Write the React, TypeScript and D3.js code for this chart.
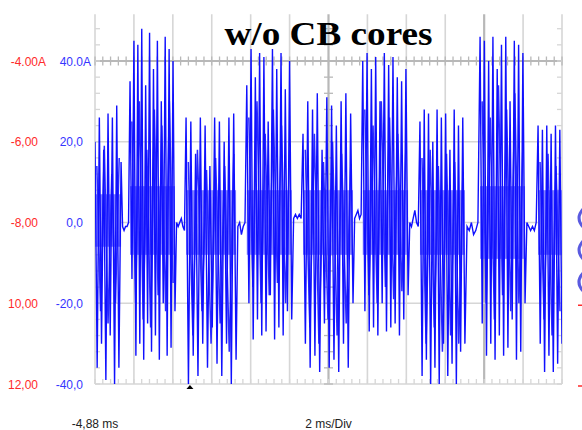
import React from "react";
import * as d3 from "d3";

// scope screen: time in ms, current in A
const timeStart = -4.88;
const timeEnd = 19.12;
const msPerDiv = 2;
const currentMin = -40;
const currentMax = 40;
const screenTopValue = 51.6;

const currentTicks = [40, 20, 0, -20, -40];
const currentLabels = ["40.0", "20,0", "0,0", "-20,0", "-40,0"];
const secondLabels = ["-4.00", "-6,00", "-8,00", "10,00", "12,00"];

// bursts of the recorded current (ms)
const burstStart = [-4.88, -3.08, -0.2, 2.92, 5.81, 8.88, 11.82, 14.91, 17.89];
const burstEnd = [-3.54, -0.77, 2.37, 5.23, 8.38, 11.21, 14.13, 17.22, 19.12];

// successive extremes inside each burst (A)
const burstPeaks: number[][] = [
  [20, -36, 26, -30, 18, -39, 27, -28, 26, -40, 29, -36, 15],
  [35, -14, 45, -33, 44, -30, 48, -34, 34, -25, 47, -32, 38, -28, 45, -34, 30, -20, 46, -33, 43, -31, 40, -22],
  [26, -40, 25, -33, 17, -38, 26, -30, 24, -36, 14, -26, 26, -35, 25, -38, 20, -30, 26, -40, 27, -34],
  [34, -20, 43, -29, 36, -24, 42, -28, 41, -27, 25, -18, 43, -29, 38, -26, 42, -28, 33, -22, 40, -24],
  [22, -30, 30, -36, 28, -33, 32, -37, 18, -25, 31, -36, 29, -34, 24, -37, 30, -30, 32, -36, 27, -20],
  [40, -22, 42, -27, 38, -26, 41, -28, 30, -20, 42, -27, 39, -26, 41, -25, 36, -28, 35, -24, 38, -18],
  [25, -38, 28, -34, 27, -40, 20, -36, 28, -40, 26, -30, 27, -38, 18, -35, 28, -40, 24, -32, 26, -30],
  [46, -25, 45, -33, 40, -30, 46, -34, 38, -28, 44, -33, 46, -31, 30, -24, 45, -34, 44, -32, 42, -20],
  [24, -30, 23, -37, 24, -33, 22, -37, 24, -35, 23, -30],
];

// shorter extremes between the big ones (A)
const burstInner: number[][] = [
  [14, -22, 19, -25, 12, -20, 16],
  [25, -20, 30, -24, 18, -26, 28, -18, 24, -22, 30, -15],
  [15, -28, 18, -22, 13, -30, 16, -25, 14, -32, 17],
  [26, -16, 30, -20, 22, -18, 28, -15, 24, -20, 18],
  [18, -26, 22, -30, 15, -24, 20, -28, 17, -25, 14],
  [28, -18, 24, -20, 30, -16, 26, -19, 22, -17, 20],
  [16, -30, 18, -26, 14, -32, 17, -28, 15, -30, 12],
  [30, -20, 26, -24, 34, -18, 28, -22, 32, -20, 20],
  [15, -24, 17, -28, 14, -22],
];

// dense light band in the middle of each burst
const bandHigh = [7, 9, 8, 8, 8, 8, 8, 9, 8];
const bandLow = [-6, -8, -8, -8, -8, -8, -8, -9, -8];

// quiet gaps between bursts
const quietLevels: number[][] = [
  [-1, -2, -1, -1, 0],
  [0, -1, 0, 1, -1, -2],
  [-1, 0, -3, -1, 0],
  [1, 2, 1, 2, 1],
  [1, 2, 3, 1, 2],
  [0, -1, 1, 3, 0, -1],
  [-1, -2, 0, -3, -2, 0],
  [0, -1, -2, -1, -2, 0],
];

type Pt = { t: number; v: number };

export default class App extends React.Component {
  protected id: string;

  constructor(props: {}) {
    super(props);
    this.id = "scope-" + Math.random().toString(36).replace(/[^a-z]+/g, "").substring(2, 10);
  }

  componentDidMount() {
    this.buildChart();
  }

  buildChart() {
    const width = 582,
      height = 430;

    const container = document.getElementById(this.id) as HTMLElement;
    container.innerHTML = "";

    const svg = d3
      .select(container)
      .append("svg")
      .attr("width", width)
      .attr("height", height)
      .style("position", "absolute")
      .style("left", "0px")
      .style("top", "0px")
      .style("background", "#fff");

    const x = d3.scaleLinear().domain([timeStart, timeEnd]).range([95, 562]);
    const y = d3.scaleLinear().domain([currentMin, currentMax]).range([384, 61]);
    const yTop = y(screenTopValue);

    const gridColor = "#d6d6d6";
    const axisColor = "#b8b8b8";

    const grid = svg.append("g");

    // vertical divisions
    const divs = d3.range(0, Math.round((timeEnd - timeStart) / msPerDiv) + 1).map((i) => timeStart + i * msPerDiv);
    grid
      .selectAll("line.v")
      .data(divs)
      .join("line")
      .attr("x1", (d) => x(d))
      .attr("x2", (d) => x(d))
      .attr("y1", yTop)
      .attr("y2", y(currentMin))
      .attr("stroke", (d, i) => (i === 6 || i === 10 ? axisColor : gridColor))
      .attr("stroke-width", (d, i) => (i === 6 || i === 10 ? 2.2 : 1.6));

    // horizontal divisions
    grid
      .selectAll("line.h")
      .data(currentTicks)
      .join("line")
      .attr("x1", x(timeStart))
      .attr("x2", x(timeEnd))
      .attr("y1", (d) => y(d))
      .attr("y2", (d) => y(d))
      .attr("stroke", (d) => (d === 40 ? axisColor : gridColor))
      .attr("stroke-width", (d) => (d === 40 ? 2.2 : 1.6));

    // minor ticks, 5 per division
    const minorT = d3.range(0, 61).map((i) => timeStart + (i * msPerDiv) / 5);
    const minorV = d3.range(currentMin, screenTopValue, 4);

    grid
      .selectAll("line.mt")
      .data(minorT)
      .join("line")
      .attr("x1", (d) => x(d))
      .attr("x2", (d) => x(d))
      .attr("y1", y(40) - 4.5)
      .attr("y2", y(40) + 4.5)
      .attr("stroke", axisColor)
      .attr("stroke-width", 1.3);

    grid
      .selectAll("line.mb")
      .data(minorT)
      .join("line")
      .attr("x1", (d) => x(d))
      .attr("x2", (d) => x(d))
      .attr("y1", y(currentMin) - 5)
      .attr("y2", y(currentMin))
      .attr("stroke", gridColor)
      .attr("stroke-width", 1.3);

    const centerT = timeStart + 6 * msPerDiv;
    grid
      .selectAll("line.mc")
      .data(minorV)
      .join("line")
      .attr("x1", x(centerT) - 4.5)
      .attr("x2", x(centerT) + 4.5)
      .attr("y1", (d) => y(d))
      .attr("y2", (d) => y(d))
      .attr("stroke", axisColor)
      .attr("stroke-width", 1.3);

    grid
      .selectAll("line.mr")
      .data(minorV)
      .join("line")
      .attr("x1", x(timeEnd) - 5)
      .attr("x2", x(timeEnd))
      .attr("y1", (d) => y(d))
      .attr("y2", (d) => y(d))
      .attr("stroke", gridColor)
      .attr("stroke-width", 1.3);

    grid
      .selectAll("line.ml")
      .data(minorV)
      .join("line")
      .attr("x1", x(timeStart))
      .attr("x2", x(timeStart) + 5)
      .attr("y1", (d) => y(d))
      .attr("y2", (d) => y(d))
      .attr("stroke", gridColor)
      .attr("stroke-width", 1.3);

    // trace
    svg
      .append("clipPath")
      .attr("id", this.id + "-clip")
      .append("rect")
      .attr("x", x(timeStart))
      .attr("y", yTop)
      .attr("width", x(timeEnd) - x(timeStart))
      .attr("height", y(currentMin) - yTop);

    const plot = svg.append("g").attr("clip-path", `url(#${this.id}-clip)`);

    plot
      .selectAll("rect.band")
      .data(burstStart)
      .join("rect")
      .attr("x", (d) => x(d))
      .attr("width", (d, i) => x(burstEnd[i]) - x(d))
      .attr("y", (d, i) => y(bandHigh[i]))
      .attr("height", (d, i) => y(bandLow[i]) - y(bandHigh[i]))
      .attr("fill", "#8282ff");

    const line = d3
      .line<Pt>()
      .x((d) => x(d.t))
      .y((d) => y(d.v));

    // inner swings, one short zigzag per burst
    const inner: Pt[][] = burstInner.map((vals, i) => {
      const t0 = burstStart[i],
        t1 = burstEnd[i];
      return vals.map((v, k) => ({ t: t0 + ((t1 - t0) * (k + 0.5)) / vals.length, v }));
    });

    plot
      .selectAll("path.inner")
      .data(inner)
      .join("path")
      .attr("d", (d) => line(d))
      .attr("fill", "none")
      .attr("stroke", "#2a2aff")
      .attr("stroke-width", 1.5);

    const pts: Pt[] = [];
    burstPeaks.forEach((peaks, i) => {
      const t0 = burstStart[i],
        t1 = burstEnd[i];
      peaks.forEach((v, k) => pts.push({ t: t0 + ((t1 - t0) * k) / (peaks.length - 1), v }));
      if (i < quietLevels.length) {
        const q = quietLevels[i];
        const g0 = burstEnd[i],
          g1 = burstStart[i + 1];
        q.forEach((v, k) => pts.push({ t: g0 + ((g1 - g0) * (k + 1)) / (q.length + 1), v }));
      }
    });

    plot
      .append("path")
      .datum(pts)
      .attr("d", line)
      .attr("fill", "none")
      .attr("stroke", "#1010ff")
      .attr("stroke-width", 1.4)
      .attr("stroke-linejoin", "miter");

    // trigger marker at t = 0
    const tx = x(0);
    svg
      .append("path")
      .attr("d", `M${tx},${y(currentMin) + 1}L${tx - 3.5},${y(currentMin) + 5}L${tx + 3.5},${y(currentMin) + 5}Z`)
      .attr("fill", "#000");

    // labels
    const font = "'Liberation Sans', Arial, sans-serif";
    const labels = svg.append("g").attr("font-family", font).attr("font-size", 12);

    labels
      .selectAll("text.cur")
      .data(currentTicks)
      .join("text")
      .attr("x", 83)
      .attr("y", (d) => y(d) + 4.5)
      .attr("text-anchor", "end")
      .attr("fill", "#3535ff")
      .text((d, i) => currentLabels[i]);

    labels
      .selectAll("text.sec")
      .data(currentTicks)
      .join("text")
      .attr("x", 38)
      .attr("y", (d) => y(d) + 4.5)
      .attr("text-anchor", "end")
      .attr("fill", "#ff2a2a")
      .text((d, i) => secondLabels[i]);

    labels.append("text").attr("x", 83).attr("y", y(40) + 4.5).attr("fill", "#3535ff").text("A");
    labels.append("text").attr("x", 38).attr("y", y(40) + 4.5).attr("fill", "#ff2a2a").text("A");

    labels
      .append("text")
      .attr("x", x(timeStart))
      .attr("y", 428)
      .attr("text-anchor", "middle")
      .attr("fill", "#222")
      .text(`${String(timeStart).replace(".", ",")} ms`);

    labels
      .append("text")
      .attr("x", x(centerT))
      .attr("y", 428)
      .attr("text-anchor", "middle")
      .attr("fill", "#222")
      .text(`${msPerDiv} ms/Div`);

    // cut-off marks of a third scale at the right edge
    const edge = svg.append("g");
    edge
      .selectAll("path.par")
      .data([218, 250, 282])
      .join("path")
      .attr("d", (d) => `M584,${d - 10}Q574,${d} 584,${d + 10}`)
      .attr("fill", "none")
      .attr("stroke", "#5a5ae0")
      .attr("stroke-width", 3);
    edge
      .selectAll("line.dash")
      .data([-20, -40])
      .join("line")
      .attr("x1", 578)
      .attr("x2", 582)
      .attr("y1", (d) => y(d) + 2)
      .attr("y2", (d) => y(d) + 2)
      .attr("stroke", "#ff2a2a")
      .attr("stroke-width", 1.5);

    // title
    svg
      .append("text")
      .attr("x", x(centerT))
      .attr("y", 45)
      .attr("text-anchor", "middle")
      .attr("font-family", "'Liberation Serif', 'Times New Roman', serif")
      .attr("font-weight", "bold")
      .attr("font-size", 34)
      .attr("textLength", 208)
      .attr("lengthAdjust", "spacingAndGlyphs")
      .attr("fill", "#000")
      .text("w/o CB cores");
  }

  render() {
    return <div id={this.id}></div>;
  }
}
